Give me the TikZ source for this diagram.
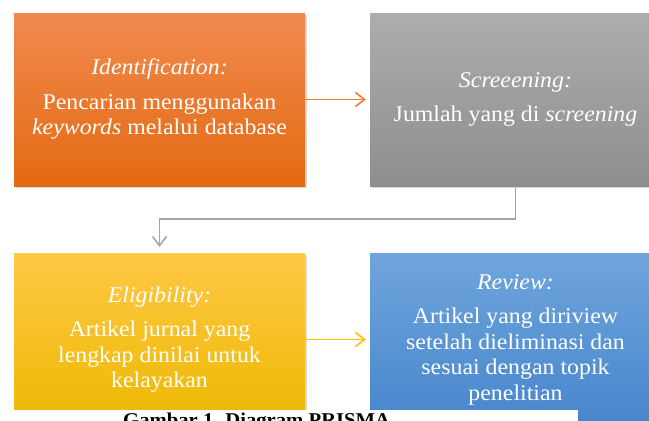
\documentclass[tikz,border=0pt]{standalone}
\usepackage{fontspec}
\setmainfont{Liberation Serif}[FakeStretch=1.06]
\usetikzlibrary{arrows.meta,shadows}
\definecolor{identtop}{HTML}{F08A50}
\definecolor{identbot}{HTML}{E46A10}
\definecolor{screentop}{HTML}{ADADAD}
\definecolor{screenbot}{HTML}{8E8E8E}
\definecolor{eligtop}{HTML}{FFC846}
\definecolor{eligbot}{HTML}{EDB800}
\definecolor{reviewtop}{HTML}{6FA5DC}
\definecolor{reviewbot}{HTML}{4785CC}
\definecolor{identline}{HTML}{ED7D31}
\definecolor{eligline}{HTML}{FFC000}
\definecolor{screenline}{HTML}{A5A5A5}
\tikzset{
  stagebox/.style={rectangle, minimum width=291pt, minimum height=173pt, inner sep=0pt,
    align=center, text=white, font=\fontsize{22.5}{25.5}\selectfont,
    drop shadow={shadow xshift=2pt, shadow yshift=-2pt, opacity=0.3}},
  flow/.style={-{Straight Barb[length=9pt,width=14pt]}, line width=1.6pt},
}
\begin{document}
\begin{tikzpicture}[x=1pt,y=-1pt]
\clip (0,0) rectangle (649,421);
\fill [white] (0,0) rectangle (649,421);
\node [stagebox, top color=identtop, bottom color=identbot] (ident) at (159.5,99.5)
  {\textit{Identification:}\\[9pt] Pencarian menggunakan\\ \textit{keywords} melalui database};
\node [stagebox, top color=screentop, bottom color=screenbot] (screen) at (515.5,99.5)
  {\textit{Screeening:}\\[9pt] Jumlah yang di \textit{screening}};
\node [stagebox, top color=eligtop, bottom color=eligbot] (elig) at (159.5,339.5)
  {\textit{Eligibility:}\\[9pt] Artikel jurnal yang\\ lengkap dinilai untuk\\ kelayakan};
\node [stagebox, top color=reviewtop, bottom color=reviewbot] (review) at (515.5,339.5)
  {\textit{Review:}\\[9pt] Artikel yang diriview\\ setelah dieliminasi dan\\ sesuai dengan topik\\ penelitian};
\draw [flow, draw=identline] (ident) -- ([xshift=-4pt]screen.west);
\draw [flow, draw=screenline] (screen.south) -- ++(0,33) -| ([yshift=6pt]elig.north);
\draw [flow, draw=eligline] (elig) -- ([xshift=-4pt]review.west);
% caption strip
\fill [white] (0,410) rectangle (578,430);
\node [anchor=base west, inner sep=0pt, font=\bfseries\fontsize{19.5}{23}\selectfont] (caption) at (123,426)
  {Gambar 1. Diagram PRISMA};
\end{tikzpicture}
\end{document}
